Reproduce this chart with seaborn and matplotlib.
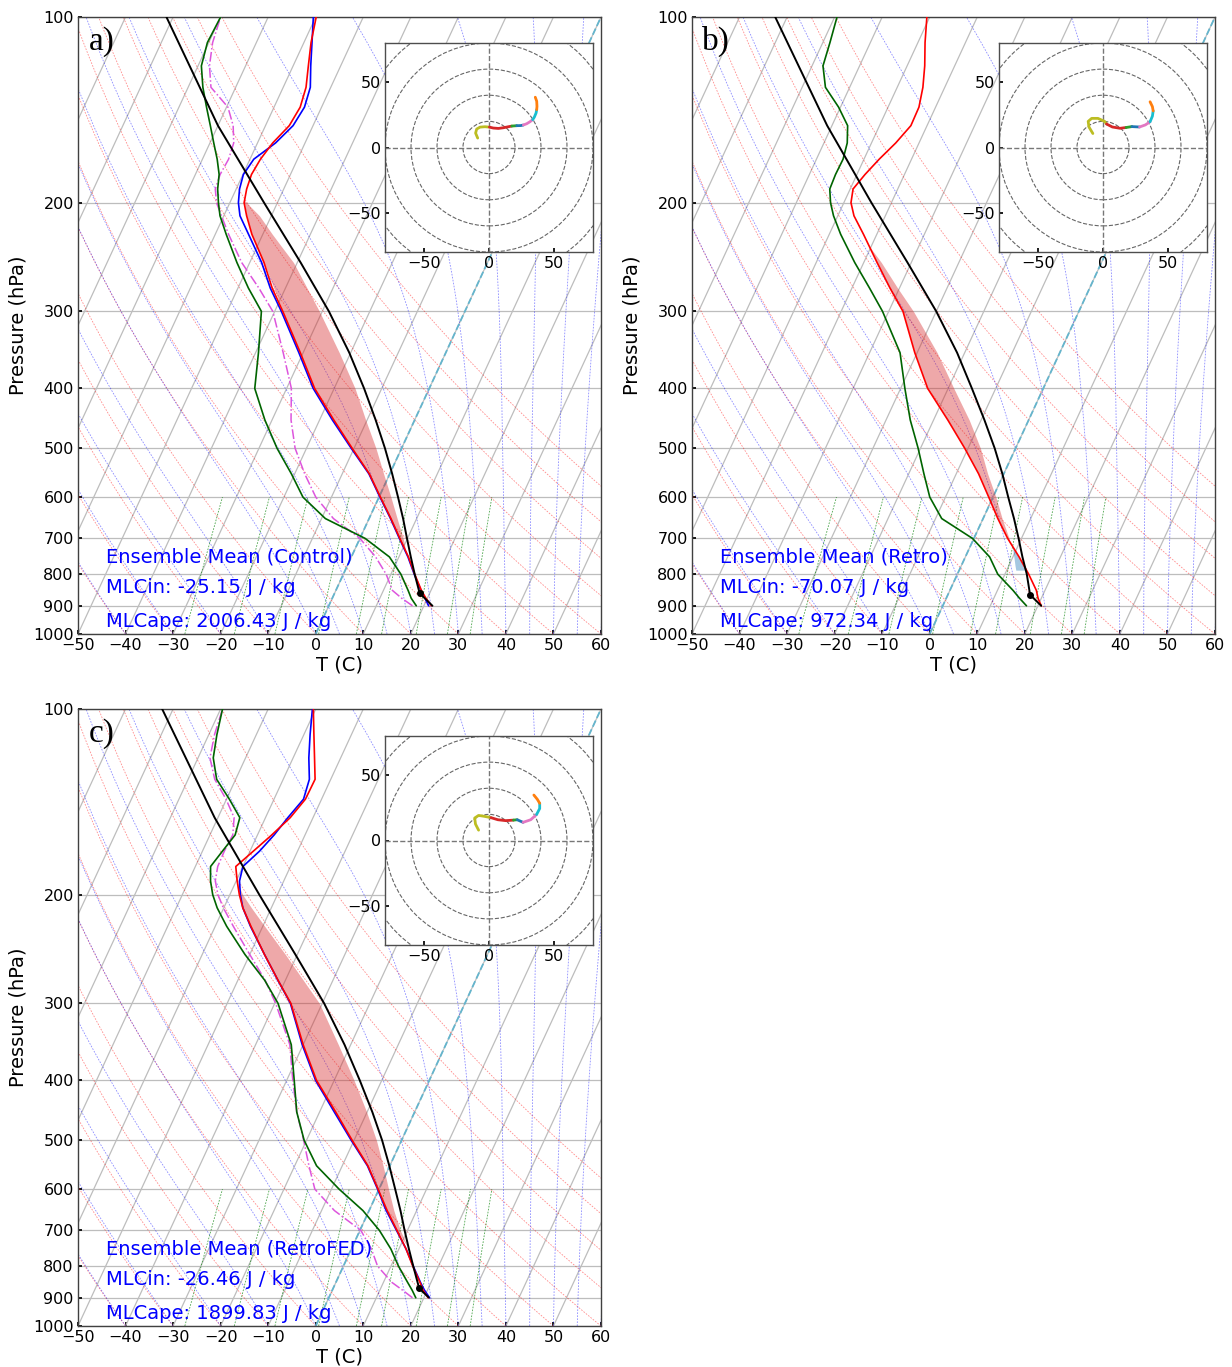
import numpy as np
import matplotlib
matplotlib.use("Agg")
import matplotlib.pyplot as plt
import matplotlib.transforms as mtransforms
from matplotlib.patches import Circle
from matplotlib.ticker import NullLocator
import seaborn as sns

sns.set_theme(style="ticks")
plt.rcParams.update({
    "font.family": ["DejaVu Sans"],
    "axes.unicode_minus": True,
    "xtick.labelsize": 11.5,
    "ytick.labelsize": 11.5,
    "axes.labelsize": 14,
    "axes.edgecolor": "0.25",
    "axes.linewidth": 1.0,
    "text.color": "black",
    "xtick.color": "black",
    "ytick.color": "black",
    "axes.labelcolor": "black",
})

# ------------------------------------------------------------------
# Sounding data (pressure in hPa, temperatures in degC)
# ------------------------------------------------------------------
P_ENV = [900, 875, 850, 800, 750, 700, 650, 600, 550, 500, 450, 400, 350, 300,
         275, 250, 225, 210, 200, 190, 180, 170, 160, 150, 140, 130, 120, 110, 100]

# Control
temp_a = [21.6, 19.7, 18.0, 15.0, 12.0, 8.4, 4.6, 0.3, -4.3, -10.4, -17.0, -24.1, -30.6, -38.3,
          -42.8, -47.0, -52.3, -55.2, -57.0, -57.8, -58.2, -57.8, -56.8, -55.0, -54.5, -55.2, -56.8, -58.5, -59.9]
tempb_a = [21.0, 19.5, 17.9, 14.9, 11.9, 8.3, 4.5, 0.2, -4.4, -10.6, -17.3, -24.4, -30.9, -38.6,
           -43.2, -47.5, -53.0, -56.6, -58.2, -59.3, -59.9, -59.2, -56.2, -54.2, -53.6, -54.3, -56.3, -58.3, -60.5]
dewp_a = [18.4, 16.6, 15.2, 12.1, 8.0, 1.1, -9.2, -16.0, -20.7, -26.2, -31.5, -36.7, -39.4, -42.8,
          -47.8, -52.7, -57.7, -60.8, -62.4, -63.9, -65.0, -66.9, -69.2, -71.6, -74.2, -76.9, -79.3, -80.3, -80.0]
dewm_a = [17.6, 14.6, 11.9, 9.0, 5.1, 0.0, -7.5, -13.3, -17.9, -22.4, -26.0, -29.0, -34.2, -40.4,
          -45.6, -51.7, -57.2, -60.5, -62.8, -64.4, -64.8, -64.5, -65.0, -66.8, -69.7, -75.2, -77.6, -79.2, -80.0]

# Retro
temp_b = [20.7, 19.3, 18.2, 15.0, 11.3, 7.1, 3.1, -0.9, -5.3, -10.7, -17.0, -24.3, -30.5, -37.0,
          -42.0, -47.2, -52.8, -56.6, -58.5, -59.4, -58.3, -56.8, -54.9, -53.4, -53.5, -54.6, -56.3, -58.5, -60.6]
dewp_b = [17.6, 15.4, 13.3, 8.5, 5.1, -0.3, -8.7, -13.3, -16.8, -20.5, -24.9, -29.1, -33.6, -41.3,
          -46.3, -51.9, -57.6, -60.9, -62.8, -64.3, -64.5, -64.4, -65.1, -66.7, -70.4, -75.1, -77.7, -78.5, -79.5]

# RetroFED
temp_c = [20.9, 19.1, 17.7, 14.6, 11.5, 7.8, 3.8, -0.2, -4.6, -10.4, -16.6, -23.7, -30.0, -36.6,
          -41.6, -46.9, -52.5, -56.0, -58.0, -59.8, -61.5, -59.3, -57.0, -54.8, -53.4, -53.3, -55.5, -57.9, -60.5]
tempb_c = [21.2, 19.4, 17.8, 14.7, 11.5, 7.7, 3.6, -0.3, -4.7, -10.6, -16.9, -23.9, -30.2, -36.7,
           -41.6, -46.9, -52.6, -56.0, -57.8, -59.3, -60.0, -58.0, -56.5, -55.3, -53.8, -54.5, -56.7, -58.7, -60.7]
dewp_c = [18.3, 16.8, 15.1, 11.6, 8.3, 4.1, -1.3, -8.4, -15.4, -20.5, -24.8, -28.4, -32.5, -39.3,
          -44.4, -51.0, -57.6, -61.4, -63.6, -65.4, -66.8, -65.8, -64.7, -65.4, -69.4, -74.0, -76.8, -78.3, -79.6]
dewm_c = [17.6, 14.8, 11.8, 7.2, 4.2, 0.2, -7.3, -13.5, -17.0, -20.6, -24.8, -28.7, -32.8, -39.8,
          -44.3, -50.0, -56.2, -60.1, -62.5, -64.4, -65.3, -65.4, -65.2, -66.6, -70.1, -74.4, -77.5, -78.8, -79.6]

# Surface-based parcel paths (second level is the LCL)
parcel_p_a = [900, 859, 800, 750, 700, 650, 600, 550, 500, 450, 400, 350, 300, 250, 200, 150, 100]
parcel_t_a = [21.8, 17.9, 15.0, 12.5, 9.9, 7.15, 4.0, 0.5, -3.5, -8.2, -13.7, -20.3, -28.6, -39.3, -52.8, -70.0, -91.4]
parcel_p_b = [900, 864, 800, 750, 700, 650, 600, 550, 500, 450, 400, 350, 300, 250, 200, 150, 100]
parcel_t_b = [20.7, 17.3, 14.6, 12.0, 9.4, 6.5, 3.2, -0.3, -4.4, -9.3, -15.0, -21.6, -30.0, -40.8, -54.2, -71.0, -92.5]
parcel_p_c = [899, 869, 800, 750, 700, 650, 600, 550, 500, 450, 400, 350, 300, 250, 200, 150, 100]
parcel_t_c = [21.0, 18.1, 14.7, 12.1, 9.4, 6.6, 3.4, -0.1, -4.1, -8.9, -14.6, -21.3, -29.6, -40.4, -53.8, -70.7, -92.3]

# Mixed-layer CAPE / CIN regions: pressure, environment, parcel
cape_p_a = [740, 700, 650, 600, 550, 500, 450, 400, 350, 300, 250, 225, 210, 198]
cape_env_a = [11.2, 8.4, 4.6, 0.3, -4.3, -10.4, -17.0, -24.1, -30.6, -38.3, -47.0, -52.3, -55.2, -57.3]
cape_par_a = [11.2, 9.1, 5.9, 2.5, -1.3, -5.4, -10.3, -15.6, -22.4, -30.6, -40.8, -48.0, -52.5, -57.3]

cape_p_b = [715, 700, 650, 600, 550, 500, 450, 400, 350, 300, 275, 250, 235]
cape_env_b = [8.2, 7.1, 3.1, -0.9, -5.3, -10.7, -17.0, -24.3, -30.5, -37.0, -42.0, -47.2, -50.5]
cape_par_b = [8.2, 7.4, 4.0, 0.6, -3.4, -7.4, -12.5, -18.8, -25.8, -34.8, -40.4, -46.3, -50.5]
cin_p_b = [788, 775, 750, 735, 722]
cin_env_b = [14.2, 13.4, 11.3, 10.1, 8.95]
cin_par_b = [11.9, 11.3, 10.2, 9.5, 8.95]

cape_p_c = [745, 700, 650, 600, 550, 500, 450, 400, 350, 300, 250, 225, 210, 200, 191]
cape_env_c = [11.7, 7.8, 3.8, -0.2, -4.6, -10.4, -16.6, -23.7, -30.0, -36.6, -46.9, -52.5, -56.0, -58.0, -59.6]
cape_par_c = [11.7, 8.5, 5.2, 2.0, -1.4, -5.3, -10.1, -15.8, -22.6, -30.6, -42.5, -49.6, -54.2, -57.3, -59.6]

# Hodographs (u, v in kt) and height-layer index of each point
hodo_u_a = [-8.7, -10.3, -9.5, -6.9, -3.1, 0.3, 3.3, 7.2, 11.0, 14.9, 17.5, 21.3, 24.5, 26.4,
            29.0, 31.5, 33.6, 34.9, 36.2, 36.7, 36.9, 36.7, 35.6]
hodo_v_a = [7.2, 11.0, 14.1, 15.6, 15.9, 15.6, 14.9, 14.6, 15.1, 15.9, 16.4, 16.7, 16.8, 17.2,
            18.2, 19.7, 21.3, 23.3, 26.4, 29.0, 31.5, 35.4, 38.5]
layer_a = [0, 0, 0, 0, 0, 0, 1, 1, 1, 1, 1, 2, 3, 3, 4, 4, 4, 5, 5, 5, 6, 6, 6]

hodo_u_b = [-7.8, -10.8, -11.4, -8.7, -3.9, 1.2, 2.7, 7.2, 13.2, 17.7, 22.2, 28.1, 32.6, 36.2,
            38.0, 38.6, 38.0, 36.2]
hodo_v_b = [10.7, 15.7, 20.0, 22.3, 22.3, 20.0, 18.0, 15.7, 14.7, 15.3, 16.0, 15.7, 17.3, 19.7,
            24.0, 28.0, 31.3, 35.0]
layer_b = [0, 0, 0, 0, 0, 0, 0, 1, 1, 1, 2, 3, 4, 4, 5, 5, 6, 6]

hodo_u_c = [-8.0, -10.4, -11.0, -8.0, -3.6, 1.5, 6.8, 12.8, 18.8, 21.7, 26.2, 32.1, 36.6, 39.0,
            39.0, 37.2, 34.5]
hodo_v_c = [7.9, 12.6, 17.2, 19.2, 18.5, 17.5, 15.9, 15.2, 15.6, 15.9, 13.9, 15.9, 19.9, 24.5,
            28.5, 31.5, 34.8]
layer_c = [0, 0, 0, 0, 0, 0, 1, 1, 1, 2, 3, 4, 4, 5, 5, 6, 6]

LAYER_COLORS = ["tab:olive", "tab:red", "tab:green", "tab:blue", "tab:pink", "tab:cyan", "tab:orange"]

TITLES = ["Ensemble Mean (Control)", "Ensemble Mean (Retro)", "Ensemble Mean (RetroFED)"]
MLCIN = ["MLCin: -25.15 J / kg", "MLCin: -70.07 J / kg", "MLCin: -26.46 J / kg"]
MLCAPE = ["MLCape: 2006.43 J / kg", "MLCape: 972.34 J / kg", "MLCape: 1899.83 J / kg"]
LABELS = ["a)", "b)", "c)"]

# ------------------------------------------------------------------
# Thermodynamic helpers for the reference lines of the diagram
# ------------------------------------------------------------------
RD, CPD, LV, EPS = 287.04, 1005.7, 2.501e6, 0.622
SKEW = 60.0 / 110.0   # isotherm shift (axes widths) per axes height


def sat_vp(tc):
    return 6.112 * np.exp(17.67 * tc / (tc + 243.5))


def moist_lapse(t0c, p):
    def rate(T, pp):
        es = sat_vp(T - 273.15)
        rs = EPS * es / (pp - es)
        return (RD * T + LV * rs) / (CPD + LV * LV * rs * EPS / (RD * T * T)) / pp

    T = np.asarray(t0c, float) + 273.15
    out = [T.copy()]
    for i in range(len(p) - 1):
        p0, p1 = p[i], p[i + 1]
        h = p1 - p0
        k1 = rate(T, p0)
        k2 = rate(T + 0.5 * h * k1, p0 + 0.5 * h)
        k3 = rate(T + 0.5 * h * k2, p0 + 0.5 * h)
        k4 = rate(T + h * k3, p1)
        T = T + h / 6.0 * (k1 + 2 * k2 + 2 * k3 + k4)
        out.append(T.copy())
    return np.array(out).T - 273.15


def skew_transform(ax):
    shear = mtransforms.Affine2D(np.array([[1.0, SKEW, 0.0], [0.0, 1.0, 0.0], [0.0, 0.0, 1.0]]))
    return ax.transScale + ax.transLimits + shear + ax.transAxes


def setup_skewt(ax):
    ax.set_yscale("log")
    ax.set_xlim(-50, 60)
    ax.set_ylim(1000, 100)
    ax.set_xticks(np.arange(-50, 61, 10))
    ax.set_yticks(np.arange(100, 1001, 100))
    ax.set_yticklabels([str(v) for v in range(100, 1001, 100)])
    ax.yaxis.set_minor_locator(NullLocator())
    ax.tick_params(direction="in", length=3, pad=3)
    ax.yaxis.grid(True, color="#bdbdbd", lw=0.9)
    ax.set_xlabel("T (C)", labelpad=2)
    ax.set_ylabel("Pressure (hPa)", labelpad=4)
    tr = skew_transform(ax)

    dash = (0, (2, 1.6))
    p_bg = np.linspace(1000, 100, 181)
    for t in np.arange(-170, 61, 10):
        ax.plot([t, t], [1000, 100], color="#bdbdbd", lw=0.9, transform=tr, zorder=1)
    for th in np.arange(-50, 101, 10):
        tt = (th + 273.15) * (p_bg / 1000.0) ** (RD / CPD) - 273.15
        ax.plot(tt, p_bg, color="red", alpha=0.45, lw=0.6, ls=dash, transform=tr, zorder=1)
    t0 = np.concatenate((np.arange(-50, 0, 10), np.arange(0, 61, 5)))
    for tt in moist_lapse(t0, p_bg):
        ax.plot(tt, p_bg, color="blue", alpha=0.45, lw=0.6, ls=dash, transform=tr, zorder=1)
    p_mix = np.linspace(1000, 600, 60)
    for w in [0.0004, 0.001, 0.002, 0.004, 0.007, 0.01, 0.016, 0.024, 0.032]:
        e = p_mix * w / (EPS + w)
        le = np.log(e / 6.112)
        td = 243.5 * le / (17.67 - le)
        ax.plot(td, p_mix, color="green", alpha=0.7, lw=0.6, ls=dash, transform=tr, zorder=1)
    ax.plot([0, 0], [1000, 100], color="c", ls="--", lw=1.3, transform=tr, zorder=2)
    return tr


def draw_hodograph(fig, rect, u, v, layer):
    hx = fig.add_axes(rect, zorder=6)
    hx.set_facecolor("white")
    for r in range(20, 101, 20):
        hx.add_patch(Circle((0, 0), r, fill=False, ls="--", lw=0.8, color="#666666", zorder=1))
    hx.axhline(0, color="#777777", ls="--", lw=1.0, zorder=1)
    hx.axvline(0, color="#777777", ls="--", lw=1.0, zorder=1)
    u = np.asarray(u)
    v = np.asarray(v)
    layer = np.asarray(layer)
    prev = None
    for k, col in enumerate(LAYER_COLORS):
        idx = list(np.where(layer == k)[0])
        if not idx:
            continue
        seg = ([prev] if prev is not None else []) + idx
        hx.plot(u[seg], v[seg], color=col, lw=2.0, solid_capstyle="round", zorder=3)
        prev = idx[-1]
    hx.set_xlim(-80, 80)
    hx.set_ylim(-80, 80)
    hx.set_xticks([-50, 0, 50])
    hx.set_yticks([-50, 0, 50])
    hx.tick_params(direction="in", length=3, pad=3, labelsize=11.5)
    for s in hx.spines.values():
        s.set_color("0.3")


def draw_panel(fig, rect, hodo_rect, i, temp, dewp, parcel_p, parcel_t,
               cape, hodo, tempb=None, dewm=None, cin=None):
    ax = fig.add_axes(rect)
    tr = setup_skewt(ax)

    cp, ce, cpar = cape
    ax.fill_betweenx(cp, ce, cpar, transform=tr, facecolor="tab:red", alpha=0.4, lw=0, zorder=2)
    if cin is not None:
        ip, ie, ipar = cin
        ax.fill_betweenx(ip, ie, ipar, transform=tr, facecolor="tab:blue", alpha=0.4, lw=0, zorder=2)

    if dewm is not None:
        ax.plot(dewm, P_ENV, color="#dd55dd", lw=1.1, ls="-.", transform=tr, zorder=3)
    sns.lineplot(x=dewp, y=P_ENV, sort=False, estimator=None, color="darkgreen", lw=1.2,
                 ax=ax, transform=tr, zorder=4)
    if tempb is not None:
        sns.lineplot(x=tempb, y=P_ENV, sort=False, estimator=None, color="blue", lw=1.2,
                     ax=ax, transform=tr, zorder=4)
    sns.lineplot(x=temp, y=P_ENV, sort=False, estimator=None, color="red", lw=1.2,
                 ax=ax, transform=tr, zorder=5)
    sns.lineplot(x=parcel_t, y=parcel_p, sort=False, estimator=None, color="black", lw=1.4,
                 ax=ax, transform=tr, zorder=5)
    ax.plot(parcel_t[1], parcel_p[1], "o", color="black", ms=4, transform=tr, zorder=6)

    ax.set_xlim(-50, 60)
    ax.set_ylim(1000, 100)

    for y, s in zip([0.1156, 0.0669, 0.0118], [TITLES[i], MLCIN[i], MLCAPE[i]]):
        ax.text(0.054, y, s, transform=ax.transAxes, color="blue", fontsize=14,
                va="baseline", zorder=7)
    ax.text(0.02, 0.947, LABELS[i], transform=ax.transAxes, fontsize=24,
            family=["Liberation Serif", "DejaVu Serif"], va="baseline", zorder=7)

    draw_hodograph(fig, hodo_rect, *hodo)
    return ax


fig = plt.figure(figsize=(12.32, 13.67), dpi=100)
W, H = 1232.0, 1367.0


def frac(left, top, right, bottom):
    return [left / W, 1 - bottom / H, (right - left) / W, (bottom - top) / H]


draw_panel(fig, frac(78, 17, 601, 634), frac(385, 43, 593, 252), 0, temp_a, dewp_a,
           parcel_p_a, parcel_t_a, (cape_p_a, cape_env_a, cape_par_a),
           (hodo_u_a, hodo_v_a, layer_a), tempb=tempb_a, dewm=dewm_a)
draw_panel(fig, frac(692, 17, 1215, 634), frac(999, 43, 1207, 252), 1, temp_b, dewp_b,
           parcel_p_b, parcel_t_b, (cape_p_b, cape_env_b, cape_par_b),
           (hodo_u_b, hodo_v_b, layer_b), cin=(cin_p_b, cin_env_b, cin_par_b))
draw_panel(fig, frac(78, 709, 601, 1326), frac(385, 736, 593, 945), 2, temp_c, dewp_c,
           parcel_p_c, parcel_t_c, (cape_p_c, cape_env_c, cape_par_c),
           (hodo_u_c, hodo_v_c, layer_c), tempb=tempb_c, dewm=dewm_c)

fig.savefig("out.png", dpi=100, facecolor="white")
